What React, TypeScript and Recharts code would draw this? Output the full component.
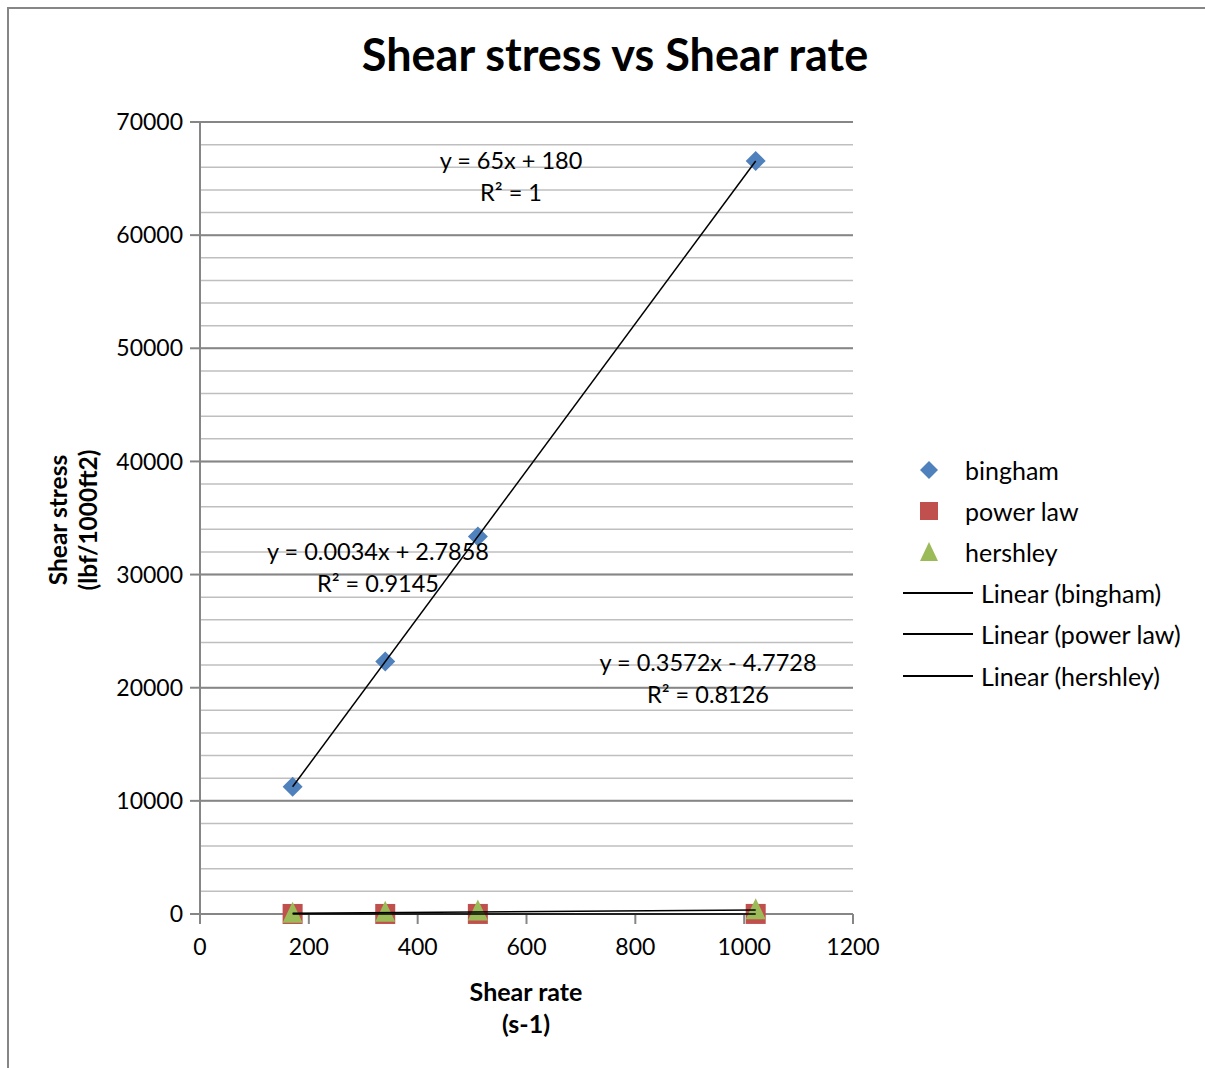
import React from 'react';
import { ScatterChart, Scatter, XAxis, YAxis, CartesianGrid, Legend } from 'recharts';

// Viscometer shear rates (s-1) and measured shear stress per rheology model
const shearRate = [170.2, 340.4, 510.6, 1021.2];
const binghamStress = [11240, 22310, 33370, 66560];
const powerLawStress = [3.3, 3.9, 4.8, 6.2];
const hershleyStress = [30, 120, 220, 340];

// Linear trendline fits (slope, intercept)
const binghamFit = [65, 180];
const powerLawFit = [0.0034, 2.7858];
const hershleyFit = [0.3572, -4.7728];

const xTicks = [0, 200, 400, 600, 800, 1000, 1200];
const yTicks = [0, 10000, 20000, 30000, 40000, 50000, 60000, 70000];
const yMinorTicks = Array.from({ length: 36 }, (_, i) => i * 2000);
const Y_MAX = 70000;
const X_MAX = 1200;

const W = 1205;
const H = 1068;
const FONT = 'Lato, "Open Sans", sans-serif';

const BLUE = '#4F81BD';
const RED = '#C0504D';
const GREEN = '#9BBB59';
const AXIS = '#868686';

const toPoints = (xs: number[], ys: number[]) => xs.map((x, i) => ({ x, y: ys[i] }));

const fitLine = (fit: number[]) => {
  const x0 = Math.min(...shearRate);
  const x1 = Math.max(...shearRate);
  return [
    { x: x0, y: fit[0] * x0 + fit[1] },
    { x: x1, y: fit[0] * x1 + fit[1] },
  ];
};

const Diamond = (p: any) => {
  const { cx, cy } = p;
  if (cx == null || cy == null) return <g />;
  const r = 10;
  return <polygon points={`${cx},${cy - r} ${cx + r},${cy} ${cx},${cy + r} ${cx - r},${cy}`} fill={BLUE} />;
};

const Square = (p: any) => {
  const { cx, cy } = p;
  if (cx == null || cy == null) return <g />;
  return <rect x={cx - 10} y={cy - 10} width={20} height={20} fill={RED} />;
};

const Triangle = (p: any) => {
  const { cx, cy } = p;
  if (cx == null || cy == null) return <g />;
  return <polygon points={`${cx},${cy - 12} ${cx + 10},${cy + 9} ${cx - 10},${cy + 9}`} fill={GREEN} />;
};

const NoShape = () => <g />;

const legendRows = [
  { kind: 'diamond', label: 'bingham' },
  { kind: 'square', label: 'power law' },
  { kind: 'triangle', label: 'hershley' },
  { kind: 'line', label: 'Linear (bingham)' },
  { kind: 'line', label: 'Linear (power law)' },
  { kind: 'line', label: 'Linear (hershley)' },
];

const LegendIcon = ({ kind }: { kind: string }) => {
  if (kind === 'line') {
    return (
      <svg width={70} height={20} style={{ marginLeft: 8, marginRight: 8 }}>
        <line x1={0} y1={10} x2={70} y2={10} stroke="#000" strokeWidth={1.8} />
      </svg>
    );
  }
  return (
    <svg width={22} height={22} style={{ marginLeft: 23, marginRight: 25 }}>
      {kind === 'diamond' && <polygon points="11,2 20,11 11,20 2,11" fill={BLUE} />}
      {kind === 'square' && <rect x={2} y={2} width={18} height={18} fill={RED} />}
      {kind === 'triangle' && <polygon points="11,1 20,20 2,20" fill={GREEN} />}
    </svg>
  );
};

const ChartLegend = () => (
  <div style={{ fontFamily: FONT, fontSize: 25, color: '#000' }}>
    {legendRows.map((r) => (
      <div key={r.label} style={{ display: 'flex', alignItems: 'center', height: 41.2 }}>
        <LegendIcon kind={r.kind} />
        <span>{r.label}</span>
      </div>
    ))}
  </div>
);

const gridAt = (values: number[]) => (props: any) => {
  const { offset, yAxis } = props;
  return values.map((v) => {
    if (offset && typeof offset.top === 'number') {
      return offset.top + offset.height * (1 - v / Y_MAX);
    }
    return yAxis.scale(v);
  });
};

const equations = [
  { lines: ['y = 65x + 180', 'R² = 1'], cx: 511, cy: 176 },
  { lines: ['y = 0.0034x + 2.7858', 'R² = 0.9145'], cx: 378, cy: 567 },
  { lines: ['y = 0.3572x - 4.7728', 'R² = 0.8126'], cx: 708, cy: 678 },
];

const textBox = (cx: number, cy: number): React.CSSProperties => ({
  position: 'absolute',
  left: cx,
  top: cy,
  transform: 'translate(-50%, -50%)',
  whiteSpace: 'nowrap',
  textAlign: 'center',
  fontFamily: FONT,
  color: '#000',
});

export default function App() {
  return (
    <div style={{ position: 'absolute', left: 0, top: 0, width: W, height: H, background: '#fff', overflow: 'hidden' }}>
      {/* chart area frame */}
      <div
        style={{
          position: 'absolute',
          left: 7,
          top: 7,
          width: W,
          height: H,
          borderLeft: `2px solid ${AXIS}`,
          borderTop: `2px solid ${AXIS}`,
        }}
      />
      <ScatterChart width={W} height={H} margin={{ top: 122, right: 352, bottom: 94, left: 100 }}>
        <CartesianGrid
          vertical={false}
          stroke="#bfbfbf"
          strokeWidth={1.5}
          horizontalCoordinatesGenerator={gridAt(yMinorTicks)}
        />
        <CartesianGrid
          vertical={false}
          stroke={AXIS}
          strokeWidth={2}
          horizontalCoordinatesGenerator={gridAt(yTicks)}
        />
        <XAxis
          type="number"
          dataKey="x"
          domain={[0, X_MAX]}
          ticks={xTicks}
          interval={0}
          height={60}
          stroke={AXIS}
          strokeWidth={2}
          tickSize={10}
          tickMargin={15}
          tick={{ fill: '#000', fontSize: 23, fontFamily: FONT }}
        />
        <YAxis
          type="number"
          dataKey="y"
          domain={[0, Y_MAX]}
          ticks={yTicks}
          interval={0}
          width={100}
          stroke={AXIS}
          strokeWidth={2}
          tickSize={10}
          tickMargin={7}
          tick={{ fill: '#000', fontSize: 23, fontFamily: FONT }}
        />
        <Legend
          layout="vertical"
          align="center"
          verticalAlign="middle"
          content={<ChartLegend />}
          wrapperStyle={{ left: 895, top: 449, width: 310 }}
        />
        <Scatter name="bingham" data={toPoints(shearRate, binghamStress)} shape={Diamond} isAnimationActive={false} />
        <Scatter name="power law" data={toPoints(shearRate, powerLawStress)} shape={Square} isAnimationActive={false} />
        <Scatter name="hershley" data={toPoints(shearRate, hershleyStress)} shape={Triangle} isAnimationActive={false} />
        <Scatter
          name="Linear (bingham)"
          data={fitLine(binghamFit)}
          shape={NoShape}
          line={{ stroke: '#000', strokeWidth: 1.5 }}
          isAnimationActive={false}
        />
        <Scatter
          name="Linear (power law)"
          data={fitLine(powerLawFit)}
          shape={NoShape}
          line={{ stroke: '#000', strokeWidth: 1.5 }}
          isAnimationActive={false}
        />
        <Scatter
          name="Linear (hershley)"
          data={fitLine(hershleyFit)}
          shape={NoShape}
          line={{ stroke: '#000', strokeWidth: 1.5 }}
          isAnimationActive={false}
        />
      </ScatterChart>

      <div style={{ ...textBox(615, 54), fontSize: 45, fontWeight: 700 }}>Shear stress vs Shear rate</div>

      {equations.map((e) => (
        <div key={e.lines[0]} style={{ ...textBox(e.cx, e.cy), fontSize: 23.5, lineHeight: '32px' }}>
          {e.lines.map((l) => (
            <div key={l}>{l}</div>
          ))}
        </div>
      ))}

      <div style={{ ...textBox(526, 1007), fontSize: 25, fontWeight: 700, lineHeight: '32px' }}>
        <div>Shear rate</div>
        <div>(s-1)</div>
      </div>

      <div
        style={{
          ...textBox(73, 520),
          transform: 'translate(-50%, -50%) rotate(-90deg)',
          fontSize: 24.5,
          fontWeight: 700,
          lineHeight: '30px',
        }}
      >
        <div>Shear stress</div>
        <div>(lbf/1000ft2)</div>
      </div>
    </div>
  );
}
